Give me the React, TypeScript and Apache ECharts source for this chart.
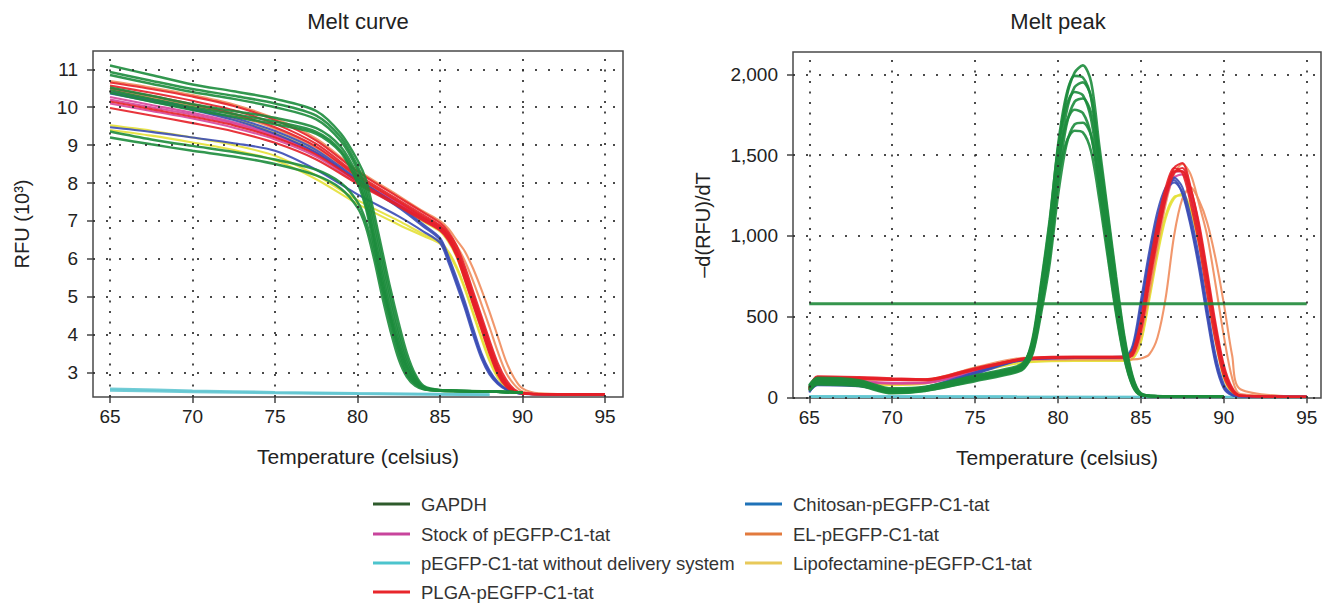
import React, { useEffect, useRef } from 'react';
import * as echarts from 'echarts';

// ---------- tick values ----------
const X_TICKS = [65, 70, 75, 80, 85, 90, 95];
const RFU_TICKS = [3, 4, 5, 6, 7, 8, 9, 10, 11];
const PEAK_TICKS = [0, 500, 1000, 1500, 2000];

// ---------- legend ----------
const LEGEND_COL1 = ['GAPDH', 'Stock of pEGFP-C1-tat', 'pEGFP-C1-tat without delivery system', 'PLGA-pEGFP-C1-tat'];
const LEGEND_COL2 = ['Chitosan-pEGFP-C1-tat', 'EL-pEGFP-C1-tat', 'Lipofectamine-pEGFP-C1-tat'];

// ---------- Melt curve (RFU x 10^3) ----------
const MELT_T_GAPDH = [65, 67.5, 70, 72.5, 75, 77.5, 79, 80, 80.5, 81, 81.5, 82, 82.5, 83, 83.5, 84, 85, 88, 90];
const MELT_GAPDH = [
  [11.10, 10.85, 10.60, 10.42, 10.22, 9.90, 9.30, 8.60, 8.10, 7.20, 6.20, 5.20, 4.30, 3.50, 2.95, 2.65, 2.54, 2.50, 2.47],
  [10.93, 10.70, 10.48, 10.30, 10.10, 9.78, 9.20, 8.45, 7.90, 7.00, 6.00, 5.00, 4.10, 3.35, 2.88, 2.62, 2.53, 2.50, 2.47],
  [10.85, 10.62, 10.40, 10.22, 10.00, 9.68, 9.10, 8.35, 7.75, 6.80, 5.80, 4.80, 3.95, 3.25, 2.82, 2.60, 2.53, 2.50, 2.47],
  [10.52, 10.30, 10.08, 9.90, 9.72, 9.45, 8.95, 8.20, 7.60, 6.60, 5.60, 4.60, 3.80, 3.15, 2.78, 2.60, 2.53, 2.50, 2.47],
  [10.45, 10.22, 10.00, 9.82, 9.62, 9.35, 8.85, 8.10, 7.45, 6.50, 5.45, 4.50, 3.70, 3.10, 2.75, 2.58, 2.53, 2.50, 2.47],
  [10.38, 10.15, 9.93, 9.75, 9.55, 9.30, 8.80, 8.00, 7.35, 6.35, 5.30, 4.40, 3.60, 3.00, 2.72, 2.57, 2.52, 2.50, 2.47],
  [9.36, 9.15, 8.98, 8.82, 8.62, 8.35, 8.00, 7.50, 7.00, 6.20, 5.20, 4.30, 3.50, 2.95, 2.70, 2.57, 2.52, 2.50, 2.47],
  [9.20, 9.02, 8.85, 8.70, 8.50, 8.20, 7.85, 7.35, 6.85, 6.00, 5.00, 4.10, 3.35, 2.88, 2.65, 2.56, 2.52, 2.50, 2.47],
];
const MELT_T_SAMPLE = [65, 67.5, 70, 72.5, 75, 77.5, 80, 82.5, 84, 85, 85.5, 86, 86.5, 87, 87.5, 88, 88.5, 89, 89.5, 90, 91, 95];
const MELT_PLGA = [
  [10.65, 10.48, 10.28, 10.03, 9.66, 9.12, 8.30, 7.62, 7.22, 6.95, 6.72, 6.35, 5.80, 5.15, 4.50, 3.85, 3.25, 2.82, 2.56, 2.46, 2.43, 2.42],
  [10.57, 10.38, 10.17, 9.92, 9.56, 9.03, 8.22, 7.55, 7.15, 6.88, 6.65, 6.25, 5.70, 5.05, 4.40, 3.75, 3.15, 2.75, 2.52, 2.45, 2.43, 2.42],
  [10.50, 10.30, 10.08, 9.83, 9.47, 8.96, 8.17, 7.50, 7.10, 6.84, 6.60, 6.20, 5.60, 4.95, 4.30, 3.65, 3.08, 2.70, 2.50, 2.45, 2.43, 2.42],
  [10.15, 9.95, 9.75, 9.52, 9.20, 8.75, 8.05, 7.42, 7.05, 6.80, 6.55, 6.12, 5.50, 4.85, 4.20, 3.55, 3.00, 2.66, 2.50, 2.45, 2.43, 2.42],
  [9.98, 9.78, 9.58, 9.36, 9.06, 8.62, 7.98, 7.38, 7.00, 6.75, 6.50, 6.08, 5.45, 4.80, 4.15, 3.50, 2.95, 2.63, 2.49, 2.45, 2.43, 2.42],
];
const MELT_STOCK = [
  [10.27, 10.06, 9.85, 9.60, 9.27, 8.80, 8.07, 7.45, 7.05, 6.80, 6.55, 6.15, 5.55, 4.90, 4.25, 3.60, 3.05, 2.68, 2.50, 2.45, 2.43, 2.42],
  [10.10, 9.90, 9.70, 9.46, 9.15, 8.70, 8.02, 7.40, 7.02, 6.76, 6.50, 6.10, 5.50, 4.85, 4.20, 3.55, 3.00, 2.65, 2.49, 2.45, 2.43, 2.42],
  [10.20, 10.00, 9.80, 9.56, 9.23, 8.78, 8.08, 7.46, 7.07, 6.82, 6.58, 6.20, 5.62, 5.00, 4.35, 3.70, 3.12, 2.72, 2.52, 2.46, 2.43, 2.42],
];
const MELT_CHITOSAN = [
  [10.40, 10.20, 9.98, 9.72, 9.37, 8.87, 8.10, 7.40, 6.90, 6.55, 6.08, 5.50, 4.88, 4.18, 3.52, 3.05, 2.75, 2.57, 2.48, 2.44, 2.43, 2.42],
  [10.36, 10.15, 9.93, 9.66, 9.30, 8.80, 8.05, 7.35, 6.85, 6.50, 6.00, 5.40, 4.78, 4.08, 3.45, 3.00, 2.72, 2.56, 2.48, 2.44, 2.43, 2.42],
  [9.47, 9.35, 9.20, 9.05, 8.85, 8.35, 7.70, 7.12, 6.72, 6.42, 5.92, 5.32, 4.70, 4.00, 3.38, 2.95, 2.70, 2.55, 2.47, 2.44, 2.43, 2.42],
];
const MELT_EL = [
  [10.69, 10.52, 10.32, 10.07, 9.70, 9.17, 8.34, 7.66, 7.25, 7.00, 6.80, 6.50, 6.20, 5.75, 5.20, 4.60, 3.95, 3.30, 2.85, 2.58, 2.45, 2.42],
  [10.45, 10.25, 10.04, 9.79, 9.43, 8.92, 8.15, 7.50, 7.10, 6.87, 6.66, 6.35, 5.95, 5.42, 4.82, 4.20, 3.55, 3.00, 2.68, 2.50, 2.44, 2.42],
];
const MELT_LIPO = [
  [10.40, 10.18, 9.95, 9.68, 9.32, 8.82, 8.05, 7.40, 6.98, 6.72, 6.45, 6.05, 5.45, 4.80, 4.15, 3.50, 2.98, 2.65, 2.50, 2.45, 2.43, 2.42],
  [9.52, 9.38, 9.20, 9.00, 8.72, 8.20, 7.55, 7.00, 6.65, 6.45, 6.20, 5.80, 5.25, 4.60, 3.95, 3.35, 2.90, 2.62, 2.50, 2.45, 2.43, 2.42],
  [9.40, 9.25, 9.07, 8.87, 8.60, 8.10, 7.45, 6.90, 6.60, 6.40, 6.15, 5.75, 5.20, 4.55, 3.90, 3.30, 2.86, 2.60, 2.49, 2.45, 2.43, 2.42],
];
const MELT_T_NAKED = [65, 70, 75, 80, 85, 88];
const MELT_NAKED = [
  [2.57, 2.52, 2.48, 2.45, 2.43, 2.42],
  [2.53, 2.49, 2.46, 2.44, 2.42, 2.41],
];

// ---------- Melt peak (-d(RFU)/dT) ----------
const PEAK_T_GAPDH = [65, 65.5, 68, 70, 72, 75, 77.5, 78, 78.5, 79, 79.5, 80, 80.5, 81, 81.5, 82, 82.5, 83, 83.5, 84, 84.5, 85, 86, 90];
const PEAK_GAPDH = [
  [55, 95, 85, 35, 50, 115, 170, 200, 320, 620, 950, 1500, 1850, 2010, 2055, 1950, 1550, 1150, 750, 380, 130, 25, 8, 3],
  [60, 100, 90, 40, 55, 120, 175, 210, 360, 700, 1080, 1560, 1870, 1990, 1980, 1850, 1450, 1050, 650, 310, 95, 18, 6, 3],
  [50, 90, 80, 30, 45, 110, 165, 195, 300, 580, 900, 1400, 1760, 1920, 1950, 1860, 1500, 1120, 720, 360, 120, 22, 7, 3],
  [65, 110, 95, 45, 60, 125, 180, 215, 380, 720, 1100, 1540, 1800, 1890, 1870, 1720, 1350, 960, 580, 270, 80, 15, 6, 3],
  [45, 85, 75, 28, 42, 105, 160, 190, 290, 560, 870, 1330, 1680, 1830, 1850, 1760, 1420, 1060, 680, 340, 110, 20, 7, 3],
  [70, 115, 100, 50, 62, 130, 185, 220, 360, 690, 1040, 1450, 1700, 1780, 1760, 1620, 1280, 900, 540, 250, 75, 14, 5, 3],
  [40, 80, 70, 25, 40, 100, 155, 185, 280, 530, 830, 1250, 1560, 1690, 1700, 1620, 1320, 980, 630, 310, 100, 18, 6, 3],
  [75, 120, 105, 55, 65, 135, 190, 225, 340, 640, 960, 1350, 1580, 1650, 1640, 1520, 1220, 870, 520, 240, 70, 12, 5, 3],
];
const PEAK_T_SAMPLE = [65, 65.5, 68, 70, 72, 75, 78, 81, 84, 84.5, 85, 85.5, 86, 86.5, 87, 87.5, 88, 88.5, 89, 89.5, 90, 90.5, 91, 95];
const PEAK_PLGA = [
  [55, 130, 125, 118, 112, 180, 240, 250, 250, 265, 430, 730, 1010, 1260, 1420, 1450, 1300, 1060, 750, 430, 180, 50, 10, 3],
  [45, 120, 118, 112, 108, 172, 238, 248, 248, 270, 450, 760, 1040, 1270, 1400, 1400, 1240, 1000, 700, 400, 160, 45, 10, 3],
  [60, 125, 120, 115, 110, 176, 242, 252, 252, 285, 480, 800, 1080, 1300, 1420, 1390, 1200, 950, 640, 350, 130, 35, 8, 3],
  [50, 115, 112, 108, 105, 170, 235, 245, 245, 260, 410, 700, 980, 1230, 1390, 1420, 1290, 1080, 780, 460, 200, 60, 12, 3],
];
const PEAK_STOCK = [
  [50, 105, 100, 90, 92, 165, 235, 245, 245, 270, 440, 750, 1030, 1260, 1390, 1400, 1260, 1030, 730, 420, 170, 45, 10, 3],
  [45, 95, 92, 85, 88, 160, 232, 243, 243, 265, 430, 730, 1000, 1230, 1360, 1380, 1250, 1030, 740, 430, 180, 50, 10, 3],
];
const PEAK_CHITOSAN = [
  [30, 80, 72, 40, 58, 150, 235, 245, 250, 320, 600, 900, 1150, 1300, 1345, 1260, 1060, 800, 490, 210, 55, 12, 5, 3],
  [35, 75, 68, 35, 55, 145, 232, 243, 248, 300, 560, 860, 1110, 1280, 1330, 1270, 1080, 830, 520, 230, 65, 15, 5, 3],
  [40, 85, 78, 45, 62, 155, 238, 247, 252, 290, 520, 820, 1080, 1270, 1360, 1300, 1120, 870, 560, 260, 80, 18, 5, 3],
];
const PEAK_EL = [
  [60, 120, 118, 112, 112, 185, 245, 250, 250, 255, 380, 640, 930, 1200, 1380, 1445, 1380, 1200, 1000, 700, 380, 120, 20, 3],
  [55, 115, 112, 108, 108, 180, 232, 235, 235, 235, 240, 265, 370, 620, 1000, 1230, 1300, 1220, 1080, 860, 580, 260, 50, 3],
];
const PEAK_LIPO = [
  [60, 100, 95, 80, 90, 160, 220, 228, 228, 240, 350, 620, 900, 1130, 1240, 1250, 1150, 950, 650, 350, 120, 25, 5, 3],
  [55, 95, 90, 75, 85, 155, 215, 225, 225, 238, 340, 600, 880, 1110, 1230, 1260, 1170, 980, 690, 380, 140, 30, 6, 3],
];
const PEAK_T_NAKED = [65, 95];
const PEAK_NAKED = [
  [6, 4],
  [3, 2],
];
const THRESHOLD_T = [65, 95];
const THRESHOLD_VALUE = 580;

// ---------- styles ----------
const FONT = '"Liberation Sans", Arial, Helvetica, sans-serif';
const COLORS = {
  gapdhLine: '#1c8c3c',
  gapdhLegend: '#2e5b2c',
  stockLine: '#d6449a',
  stockLegend: '#c8449c',
  nakedLine: '#63c7d2',
  nakedLegend: '#4cc4cd',
  plgaLine: '#e61f27',
  plgaLegend: '#e8262b',
  chitosanLine: '#3a4bb5',
  chitosanLegend: '#1f72b8',
  elLine: '#f08c5c',
  elLegend: '#e27a3e',
  lipoLine: '#e4e036',
  lipoLegend: '#e8c95a',
  threshold: '#1f8a3a',
};
const LEGEND_ROW_CENTERS = [504, 534, 563, 592];
const LEGEND_COL_LEFT = [373, 745];

function curves(name: string, T: number[], rows: number[][], color: string, gi: number, z: number, width = 2.1) {
  return rows.map((row, k) => ({
    type: 'line',
    name: `${name} #${k + 1}`,
    xAxisIndex: gi,
    yAxisIndex: gi,
    data: row.map((v, i) => [T[i], v]),
    showSymbol: false,
    symbol: 'none',
    smooth: 0.3,
    silent: true,
    z,
    color,
    lineStyle: { color, width, opacity: 0.9 },
    emphasis: { disabled: true },
  }));
}

function gridLines(gi: number, yTicks: number[]) {
  const vStyle = { type: [2, 8.5], color: '#2a2a2a', width: 2, opacity: 0.85 };
  const hStyle = { type: [2, 11], color: '#2a2a2a', width: 2, opacity: 0.85 };
  return {
    type: 'line',
    name: `grid-${gi}`,
    xAxisIndex: gi,
    yAxisIndex: gi,
    data: [],
    silent: true,
    z: 1,
    markLine: {
      silent: true,
      symbol: ['none', 'none'],
      label: { show: false },
      emphasis: { disabled: true },
      animation: false,
      data: [
        ...X_TICKS.map((v) => ({ xAxis: v, lineStyle: vStyle })),
        ...yTicks.map((v) => ({ yAxis: v, lineStyle: hStyle })),
      ],
    },
  };
}

function xAxis(gi: number, min: number, max: number) {
  return {
    type: 'value',
    gridIndex: gi,
    min,
    max,
    axisLine: { show: false },
    axisTick: { show: true, length: 6, lineStyle: { color: '#444', width: 1.5 }, customValues: X_TICKS },
    axisLabel: { customValues: X_TICKS, color: '#222', fontSize: 19, fontFamily: FONT, margin: 10 },
    splitLine: { show: false },
    name: 'Temperature (celsius)',
    nameLocation: 'middle',
    nameGap: 49,
    nameTextStyle: { color: '#222', fontSize: 21, fontFamily: FONT },
  };
}

function legendDummy(name: string, color: string) {
  return { type: 'line', name, data: [], xAxisIndex: 0, yAxisIndex: 0, color, itemStyle: { color }, lineStyle: { color } };
}

function legendItem(name: string, col: number, row: number) {
  return {
    data: [name],
    left: LEGEND_COL_LEFT[col],
    top: LEGEND_ROW_CENTERS[row] - 10,
    orient: 'horizontal',
    padding: 0,
    itemWidth: 37,
    itemHeight: 3,
    icon: 'rect',
    selectedMode: false,
    textStyle: { fontSize: 18.5, color: '#333', fontFamily: FONT, lineHeight: 20, padding: [0, 0, 0, 6] },
  };
}

function buildOption() {
  return {
    animation: false,
    backgroundColor: '#ffffff',
    grid: [
      { left: 93, top: 51, width: 530, height: 346, show: true, borderColor: '#4a4a4a', borderWidth: 1.5, backgroundColor: 'transparent' },
      { left: 793, top: 52, width: 528, height: 346, show: true, borderColor: '#4a4a4a', borderWidth: 1.5, backgroundColor: 'transparent' },
    ],
    xAxis: [xAxis(0, 63.97, 96.09), xAxis(1, 64.02, 95.86)],
    yAxis: [
      {
        type: 'value',
        gridIndex: 0,
        min: 2.354,
        max: 11.483,
        axisLine: { show: false },
        axisTick: { show: true, length: 6, lineStyle: { color: '#444', width: 1.5 }, customValues: RFU_TICKS },
        axisLabel: { customValues: RFU_TICKS, color: '#222', fontSize: 19, fontFamily: FONT, margin: 15 },
        splitLine: { show: false },
        name: 'RFU (10³)',
        nameLocation: 'middle',
        nameGap: 61,
        nameTextStyle: { color: '#222', fontSize: 20, fontFamily: FONT },
      },
      {
        type: 'value',
        gridIndex: 1,
        min: -4.3,
        max: 2138,
        axisLine: { show: false },
        axisTick: { show: true, length: 6, lineStyle: { color: '#444', width: 1.5 }, customValues: PEAK_TICKS },
        axisLabel: {
          customValues: PEAK_TICKS,
          color: '#222',
          fontSize: 19,
          fontFamily: FONT,
          margin: 15,
          formatter: (v: number) => v.toLocaleString('en-US'),
        },
        splitLine: { show: false },
        name: '–d(RFU)/dT',
        nameLocation: 'middle',
        nameGap: 80,
        nameTextStyle: { color: '#222', fontSize: 20, fontFamily: FONT },
      },
    ],
    legend: [
      ...LEGEND_COL1.map((n, i) => legendItem(n, 0, i)),
      ...LEGEND_COL2.map((n, i) => legendItem(n, 1, i)),
    ],
    graphic: [
      { type: 'text', x: 358, y: 21, silent: true, style: { text: 'Melt curve', fontSize: 22, fontFamily: FONT, fill: '#222', align: 'center', verticalAlign: 'middle' } },
      { type: 'text', x: 1058, y: 21, silent: true, style: { text: 'Melt peak', fontSize: 22, fontFamily: FONT, fill: '#222', align: 'center', verticalAlign: 'middle' } },
    ],
    series: [
      gridLines(0, RFU_TICKS),
      gridLines(1, PEAK_TICKS),
      // melt curve
      ...curves('naked-melt', MELT_T_NAKED, MELT_NAKED, COLORS.nakedLine, 0, 2, 2.6),
      ...curves('lipo-melt', MELT_T_SAMPLE, MELT_LIPO, COLORS.lipoLine, 0, 2),
      ...curves('el-melt', MELT_T_SAMPLE, MELT_EL, COLORS.elLine, 0, 2),
      ...curves('stock-melt', MELT_T_SAMPLE, MELT_STOCK, COLORS.stockLine, 0, 2),
      ...curves('chitosan-melt', MELT_T_SAMPLE, MELT_CHITOSAN, COLORS.chitosanLine, 0, 2),
      ...curves('plga-melt', MELT_T_SAMPLE, MELT_PLGA, COLORS.plgaLine, 0, 2),
      ...curves('gapdh-melt', MELT_T_GAPDH, MELT_GAPDH, COLORS.gapdhLine, 0, 3, 2.5),
      // melt peak
      ...curves('naked-peak', PEAK_T_NAKED, PEAK_NAKED, COLORS.nakedLine, 1, 2, 2.6),
      ...curves('lipo-peak', PEAK_T_SAMPLE, PEAK_LIPO, COLORS.lipoLine, 1, 2),
      ...curves('el-peak', PEAK_T_SAMPLE, PEAK_EL, COLORS.elLine, 1, 2),
      ...curves('stock-peak', PEAK_T_SAMPLE, PEAK_STOCK, COLORS.stockLine, 1, 2),
      ...curves('chitosan-peak', PEAK_T_SAMPLE, PEAK_CHITOSAN, COLORS.chitosanLine, 1, 2),
      ...curves('plga-peak', PEAK_T_SAMPLE, PEAK_PLGA, COLORS.plgaLine, 1, 2),
      ...curves('gapdh-peak', PEAK_T_GAPDH, PEAK_GAPDH, COLORS.gapdhLine, 1, 3, 2.6),
      ...curves('threshold', THRESHOLD_T, [THRESHOLD_T.map(() => THRESHOLD_VALUE)], COLORS.threshold, 1, 4, 3),
      // legend entries
      legendDummy(LEGEND_COL1[0], COLORS.gapdhLegend),
      legendDummy(LEGEND_COL1[1], COLORS.stockLegend),
      legendDummy(LEGEND_COL1[2], COLORS.nakedLegend),
      legendDummy(LEGEND_COL1[3], COLORS.plgaLegend),
      legendDummy(LEGEND_COL2[0], COLORS.chitosanLegend),
      legendDummy(LEGEND_COL2[1], COLORS.elLegend),
      legendDummy(LEGEND_COL2[2], COLORS.lipoLegend),
    ],
  };
}

export default function App() {
  const ref = useRef<HTMLDivElement>(null);
  useEffect(() => {
    if (!ref.current) return;
    const chart = echarts.init(ref.current, null, { renderer: 'svg' });
    chart.setOption(buildOption() as any);
    return () => chart.dispose();
  }, []);
  return (
    <div
      ref={ref}
      style={{ position: 'fixed', left: 0, top: 0, width: 1325, height: 603, background: '#ffffff' }}
    />
  );
}
